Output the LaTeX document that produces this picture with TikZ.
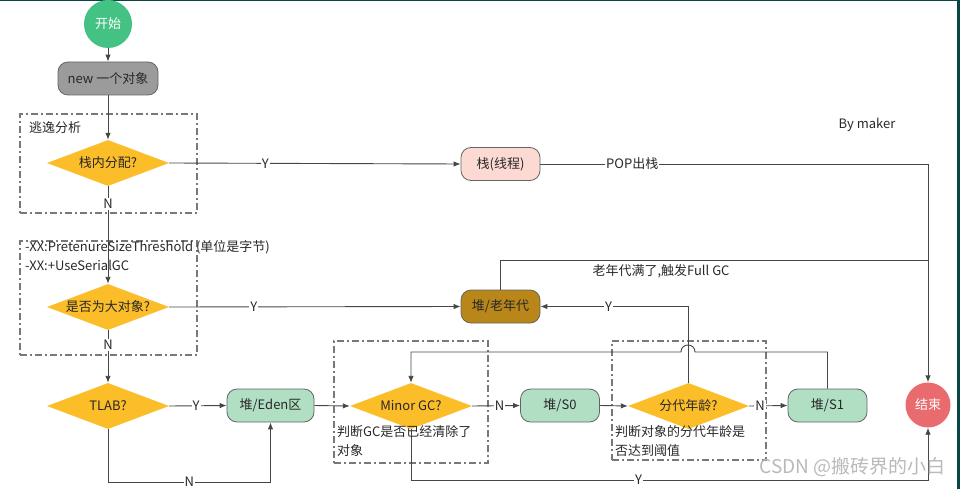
\documentclass[tikz,border=0pt]{standalone}
\usepackage{fontspec}
\setmainfont{Noto Sans CJK SC}
\usetikzlibrary{shapes.geometric,arrows.meta,calc}
\definecolor{startgreen}{RGB}{68,194,131}
\definecolor{endred}{RGB}{234,107,110}
\definecolor{newgray}{RGB}{155,155,155}
\definecolor{dyellow}{RGB}{251,189,40}
\definecolor{stackpink}{RGB}{252,218,211}
\definecolor{oldgold}{RGB}{185,134,26}
\definecolor{heapgreen}{RGB}{177,223,196}
\definecolor{lineclr}{RGB}{70,70,70}
\definecolor{boxline}{RGB}{100,100,100}
\definecolor{grpclr}{RGB}{120,120,120}
\definecolor{txt}{RGB}{40,40,40}
\definecolor{frameteal}{RGB}{8,70,68}
\definecolor{wmark}{RGB}{185,185,185}
\begin{document}
\begin{tikzpicture}[x=1pt,y=-1pt,
  every node/.style={font=\fontsize{13}{15}\selectfont, text=txt},
  rbox/.style={rectangle, rounded corners=10pt, draw=boxline, line width=0.8pt, inner sep=0pt, minimum height=33pt},
  dia/.style={diamond, fill=dyellow, inner sep=0pt, minimum width=122pt, minimum height=46pt},
  term/.style={circle, inner sep=0pt, text=white},
  conn/.style={draw=lineclr, line width=0.9pt, -{Latex[length=7pt,width=5.5pt]}},
  plain/.style={draw=lineclr, line width=0.9pt},
  lbl/.style={fill=white, inner sep=1pt},
  grp/.style={draw=grpclr, line width=1.1pt, dash pattern=on 7pt off 3pt on 2pt off 3pt, inner sep=0pt},
  note/.style={anchor=west, inner sep=0pt, align=left}
]
\useasboundingbox (0,0) rectangle (960,489);
% frame
\draw[frameteal, line width=1.4pt] (0,0.7) -- (958.5,0.7);
\draw[frameteal, line width=3pt] (958.5,0) -- (958.5,489);

% group boxes
\node[grp, minimum width=177pt, minimum height=99pt] (g1) at (108.5,163.5) {};
\node[grp, minimum width=177pt, minimum height=114pt] (g2) at (108.5,298) {};
\node[grp, minimum width=154pt, minimum height=122pt] (g3) at (411,402) {};
\node[grp, minimum width=154pt, minimum height=119pt] (g4) at (689,400.5) {};

% main nodes
\node[term, fill=startgreen, minimum size=48pt] (start) at (108,24) {开始};
\node[rbox, fill=newgray, minimum width=100pt] (new) at (108,78.5) {new 一个对象};
\node[dia] (d1) at (108,163) {\makebox[0pt]{栈内分配?}};
\node[rbox, fill=stackpink, minimum width=79pt] (stack) at (500.5,164) {栈(线程)};
\node[dia] (d2) at (108,307) {\makebox[0pt]{是否为大对象?}};
\node[rbox, fill=oldgold, minimum width=79pt] (old) at (500.5,306.5) {堆/老年代};
\node[dia] (tlab) at (108,406) {\makebox[0pt]{TLAB?}};
\node[rbox, fill=heapgreen, minimum width=87pt] (eden) at (270.5,405.5) {堆/Eden区};
\node[dia] (mgc) at (411,406) {\makebox[0pt]{Minor GC?}};
\node[rbox, fill=heapgreen, minimum width=79pt] (s0) at (560,405.5) {堆/S0};
\node[dia, minimum width=121pt] (age) at (688.5,406) {\makebox[0pt]{分代年龄?}};
\node[rbox, fill=heapgreen, minimum width=79pt] (s1) at (827.5,405.5) {堆/S1};
\node[term, fill=endred, minimum size=45pt] (endc) at (928,405) {结束};

% helper coordinates
\coordinate (yfull) at (0,260.5);
\coordinate (ybot) at (0,480);
\coordinate (yloop) at (0,352);

% connectors
\draw[conn] (start) -- (new);
\draw[conn] (new) -- (d1);
\draw[conn] (d1) -- node[lbl, pos=0.18]{N} (d2);
\draw[conn] (d1.east) -- node[lbl, pos=0.33]{Y} (stack.west);
\draw[conn] (stack.east) -- node[lbl, pos=0.237]{POP出栈} (stack.east -| endc.north) -- (endc.north);
\draw[plain] (old.north) |- (endc.north |- yfull);
\draw[conn] (d2.east) -- node[lbl, pos=0.29]{Y} (old.west);
\draw[conn] (d2.south) -- node[lbl, pos=0.28]{N} (tlab.north);
\draw[conn] (tlab.east) -- node[lbl, pos=0.47]{Y} (eden.west);
\draw[conn] (tlab.south) -- ++(0,53) -| node[lbl, pos=0.25]{N} (eden.south);
\draw[conn] (eden.east) -- (mgc.west);
\draw[conn] (mgc.east) -- node[lbl, pos=0.57]{N} (s0.west);
\draw[conn] (s0.east) -- (age.west);
\draw[conn] (age.east) -- node[lbl, pos=0.28]{N} (s1.west);
\draw[conn] (age.north) |- node[lbl, pos=0.77]{Y} (old.east);
\draw[conn] (s1.north) -- (s1.north |- yloop) -- (695,352) .. controls (695,342.7) and (681,342.7) .. (681,352) -- (mgc.north |- yloop) -- (mgc.north);
\draw[conn] (mgc.south) -- (mgc.south |- ybot) -- node[lbl, pos=0.44]{Y} (endc.south |- ybot) -- (endc.south);

% texts
\node[note] (escape) at (29,128) {逃逸分析};
\node[note] (opt1) at (25,247) {-XX:PretenureSizeThreshold (单位是字节)};
\node[note] (opt2) at (25,265) {-XX:+UseSerialGC};
\node[note] (mgctxt1) at (337,432) {判断GC是否已经清除了};
\node[note] (mgctxt2) at (337,451) {对象};
\node[note] (agetxt1) at (615,432) {判断对象的分代年龄是};
\node[note] (agetxt2) at (615,451) {否达到阈值};
\node[anchor=north, inner sep=0pt] (fulltxt) at (661,264) {老年代满了,触发Full GC};
\node (bym) at (867,125) {By maker};
\node[text=wmark, font=\fontsize{19}{21}\selectfont, anchor=east, inner sep=0pt] (wm) at (946,467) {CSDN @搬砖界的小白};
\end{tikzpicture}
\end{document}
